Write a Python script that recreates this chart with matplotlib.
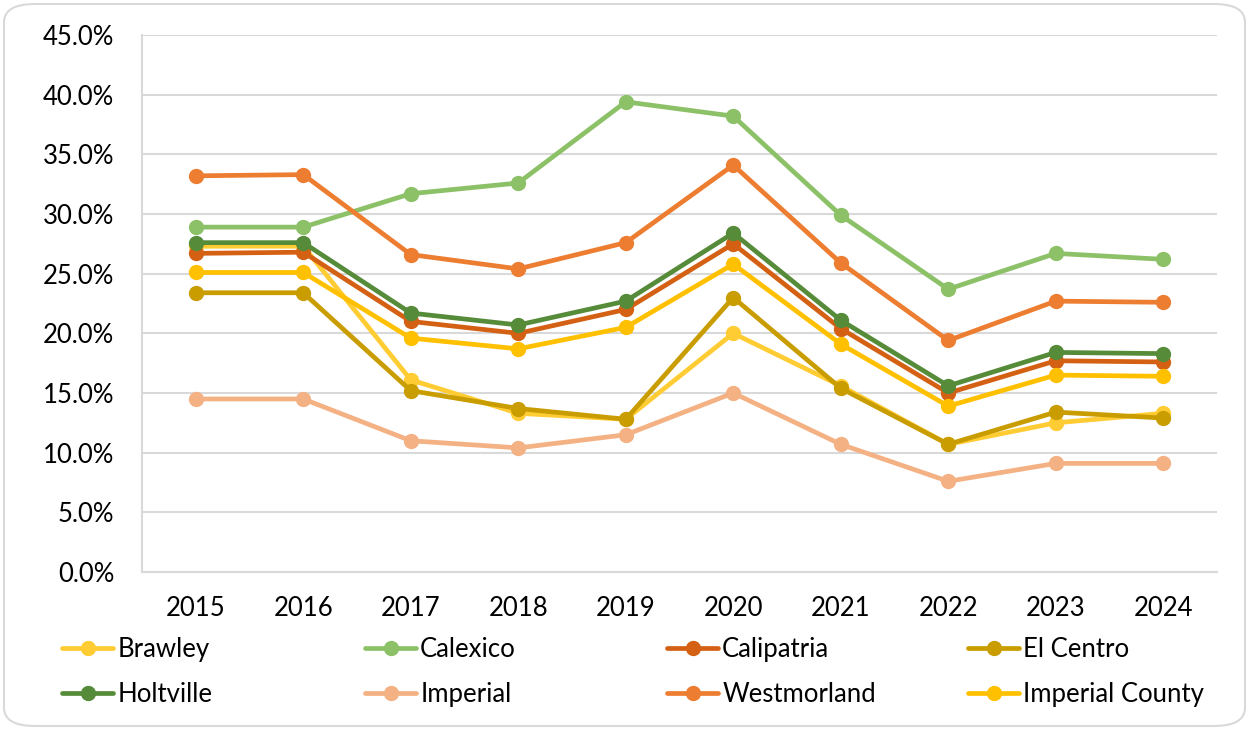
import matplotlib
matplotlib.use("Agg")
import matplotlib.pyplot as plt
from matplotlib.patches import FancyBboxPatch
from matplotlib.ticker import FuncFormatter, MultipleLocator

years = [2015, 2016, 2017, 2018, 2019, 2020, 2021, 2022, 2023, 2024]

brawley = [27.3, 27.3, 16.1, 13.3, 12.8, 20.0, 15.6, 10.7, 12.5, 13.3]
calexico = [28.9, 28.9, 31.7, 32.6, 39.4, 38.2, 29.9, 23.7, 26.7, 26.2]
calipatria = [26.7, 26.8, 21.0, 20.0, 22.0, 27.5, 20.4, 15.0, 17.7, 17.6]
el_centro = [23.4, 23.4, 15.2, 13.7, 12.8, 23.0, 15.4, 10.7, 13.4, 12.9]
holtville = [27.6, 27.6, 21.7, 20.7, 22.7, 28.4, 21.1, 15.6, 18.4, 18.3]
imperial = [14.5, 14.5, 11.0, 10.4, 11.5, 15.0, 10.7, 7.6, 9.1, 9.1]
westmorland = [33.2, 33.3, 26.6, 25.4, 27.6, 34.1, 25.9, 19.4, 22.7, 22.6]
imperial_county = [25.1, 25.1, 19.6, 18.7, 20.5, 25.8, 19.1, 13.9, 16.5, 16.4]

series_names = ["Brawley", "Calexico", "Calipatria", "El Centro",
                "Holtville", "Imperial", "Westmorland", "Imperial County"]
series_values = [brawley, calexico, calipatria, el_centro,
                 holtville, imperial, westmorland, imperial_county]
colors = ["#FFCC33", "#8CC168", "#D46113", "#C99D00",
          "#568B3A", "#F4B183", "#ED7D31", "#FFC000"]

plt.rcParams['font.family'] = ['Lato', 'DejaVu Sans']

fig = plt.figure(figsize=(12.49, 7.30), dpi=100)
W, H = 1249, 730
ax = fig.add_axes([142 / W, 1 - 572 / H, (1217 - 142) / W, (572 - 35) / H])

# rounded border
border = FancyBboxPatch((4 / W, 4 / H), (W - 8) / W, (H - 8) / H,
                        boxstyle="round,pad=0,rounding_size=0.025",
                        transform=fig.transFigure, facecolor="white",
                        edgecolor="#D9D9D9", linewidth=1.5, zorder=-10)
fig.patches.append(border)

x = list(range(len(years)))
handles = []
for name, vals, c in zip(series_names, series_values, colors):
    h, = ax.plot(x, vals, color=c, linewidth=3.4, marker='o', markersize=10,
                 label=name, solid_capstyle='round')
    handles.append(h)

ax.set_ylim(0, 45)
ax.set_xlim(-0.5, len(years) - 0.5)
ax.yaxis.set_major_locator(MultipleLocator(5))
ax.yaxis.set_major_formatter(FuncFormatter(lambda v, p: f"{v:.1f}%"))
ax.set_xticks(x)
ax.set_xticklabels([str(y) for y in years])
ax.grid(axis='y', color='#D9D9D9', linewidth=1.5)
ax.set_axisbelow(True)
for s in ['top', 'right']:
    ax.spines[s].set_visible(False)
ax.spines['left'].set_color('#D9D9D9')
ax.spines['left'].set_linewidth(1.5)
ax.spines['bottom'].set_color('#D9D9D9')
ax.spines['bottom'].set_linewidth(1.5)
ax.tick_params(axis='both', length=0, labelsize=18.5, colors='black')
ax.tick_params(axis='y', pad=20)
ax.tick_params(axis='x', pad=17)
ax.patch.set_alpha(0)

# legend: 4 columns, 2 rows (row-major order as in reference)
col_x = [44, 347, 649, 950]
for ci in range(4):
    idx = [ci, ci + 4]
    lg = fig.legend(handles=[handles[i] for i in idx],
                    labels=[series_names[i] for i in idx],
                    loc='upper left', bbox_to_anchor=(col_x[ci] / W, 1 - 619 / H),
                    frameon=False, fontsize=18.5, handlelength=2.0,
                    handletextpad=0.15, labelspacing=0.78, borderpad=0.2)

fig.savefig("out.png", dpi=100)
